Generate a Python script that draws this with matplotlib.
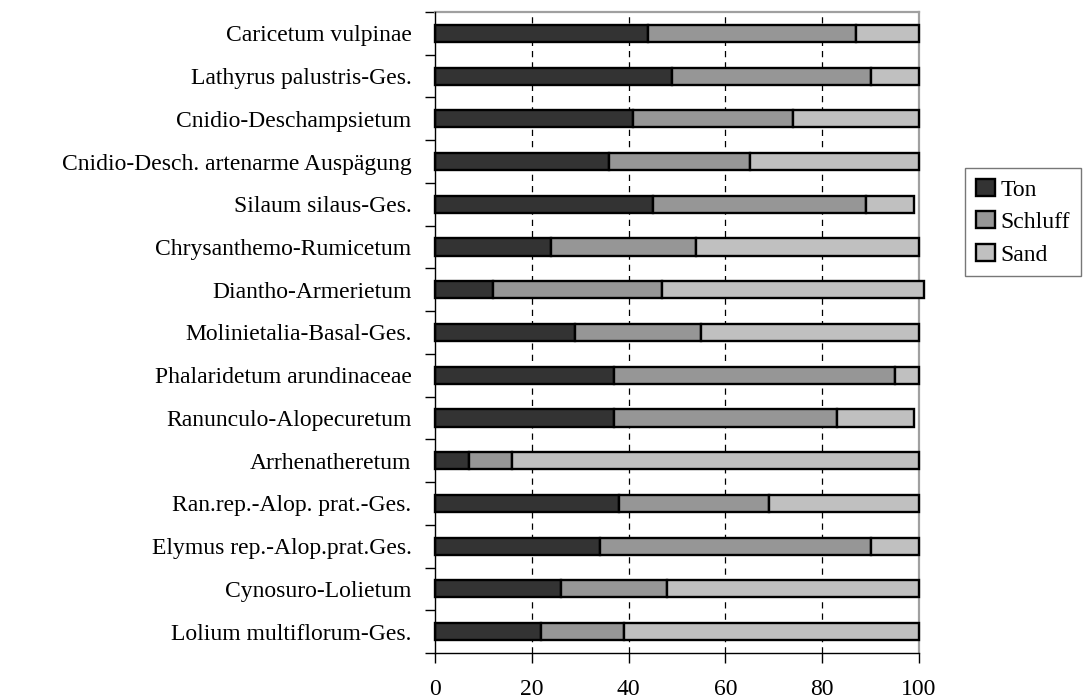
import numpy as np
import matplotlib
matplotlib.use('Agg')
import matplotlib.pyplot as plt
from matplotlib.patches import Patch

matplotlib.rc('font', family='Liberation Serif', size=17)
matplotlib.rc('figure', figsize=(10.84, 7.00), dpi=100)

# plant communities, top to bottom
communities = [
    "Caricetum vulpinae",
    "Lathyrus palustris-Ges.",
    "Cnidio-Deschampsietum",
    "Cnidio-Desch. artenarme Auspägung",
    "Silaum silaus-Ges.",
    "Chrysanthemo-Rumicetum",
    "Diantho-Armerietum",
    "Molinietalia-Basal-Ges.",
    "Phalaridetum arundinaceae",
    "Ranunculo-Alopecuretum",
    "Arrhenatheretum",
    "Ran.rep.-Alop. prat.-Ges.",
    "Elymus rep.-Alop.prat.Ges.",
    "Cynosuro-Lolietum",
    "Lolium multiflorum-Ges.",
]

# grain size fractions (%)
ton     = [44, 49, 41, 36, 45, 24, 12, 29, 37, 37,  7, 38, 34, 26, 22]
schluff = [43, 41, 33, 29, 44, 30, 35, 26, 58, 46,  9, 31, 56, 22, 17]
sand    = [13, 10, 26, 35, 10, 46, 54, 45,  5, 16, 84, 31, 10, 52, 61]

fractions = ["Ton", "Schluff", "Sand"]
colors = ['#333333', '#969696', '#c0c0c0']

fig = plt.figure()
ax = fig.add_axes([435/1084, 1 - 653/700, 484/1084, 641/700])

n = len(communities)
y = np.arange(n)[::-1]
left = np.zeros(n)
for vals, c in zip([ton, schluff, sand], colors):
    vals = np.array(vals, dtype=float)
    # some rows sum to 101 %, let those run past the frame
    ax.barh(y, vals, left=left, height=0.4, color=c, edgecolor='black',
            linewidth=1.7, zorder=3, clip_on=False)
    left += vals

ax.set_xlim(0, 100)
ax.set_ylim(-0.5, n - 0.5)

# dashed vertical gridlines
for gx in [20, 40, 60, 80]:
    ax.axvline(gx, color='black', lw=0.9, ls=(0, (5, 4)), zorder=1)

ax.set_xticks(np.arange(0, 101, 20))
ax.tick_params(axis='x', direction='out', length=7, width=1, pad=12,
               labelsize=17)

ax.set_yticks(y)
ax.set_yticklabels(communities)
ax.set_yticks(np.arange(n + 1) - 0.5, minor=True)
ax.tick_params(axis='y', which='major', length=0, pad=17, labelsize=17)
ax.tick_params(axis='y', which='minor', direction='out', length=7, width=1)

for side in ['left', 'bottom']:
    ax.spines[side].set_color('black')
    ax.spines[side].set_linewidth(1.0)
    ax.spines[side].set_zorder(4)
for side in ['top', 'right']:
    ax.spines[side].set_color('#a0a0a0')
    ax.spines[side].set_linewidth(1.6)

handles = [Patch(facecolor=c, edgecolor='black', linewidth=1.7) for c in colors]
leg = fig.legend(handles, fractions, loc='upper left',
                 bbox_to_anchor=(965/1084, 1 - 168/700),
                 fontsize=17, frameon=True, fancybox=False,
                 handlelength=0.8, handleheight=0.75, handletextpad=0.25,
                 labelspacing=0.45, borderpad=0.45, borderaxespad=0)
leg.get_frame().set_edgecolor('#555555')
leg.get_frame().set_linewidth(1.0)

fig.savefig('out.png', dpi=100)
